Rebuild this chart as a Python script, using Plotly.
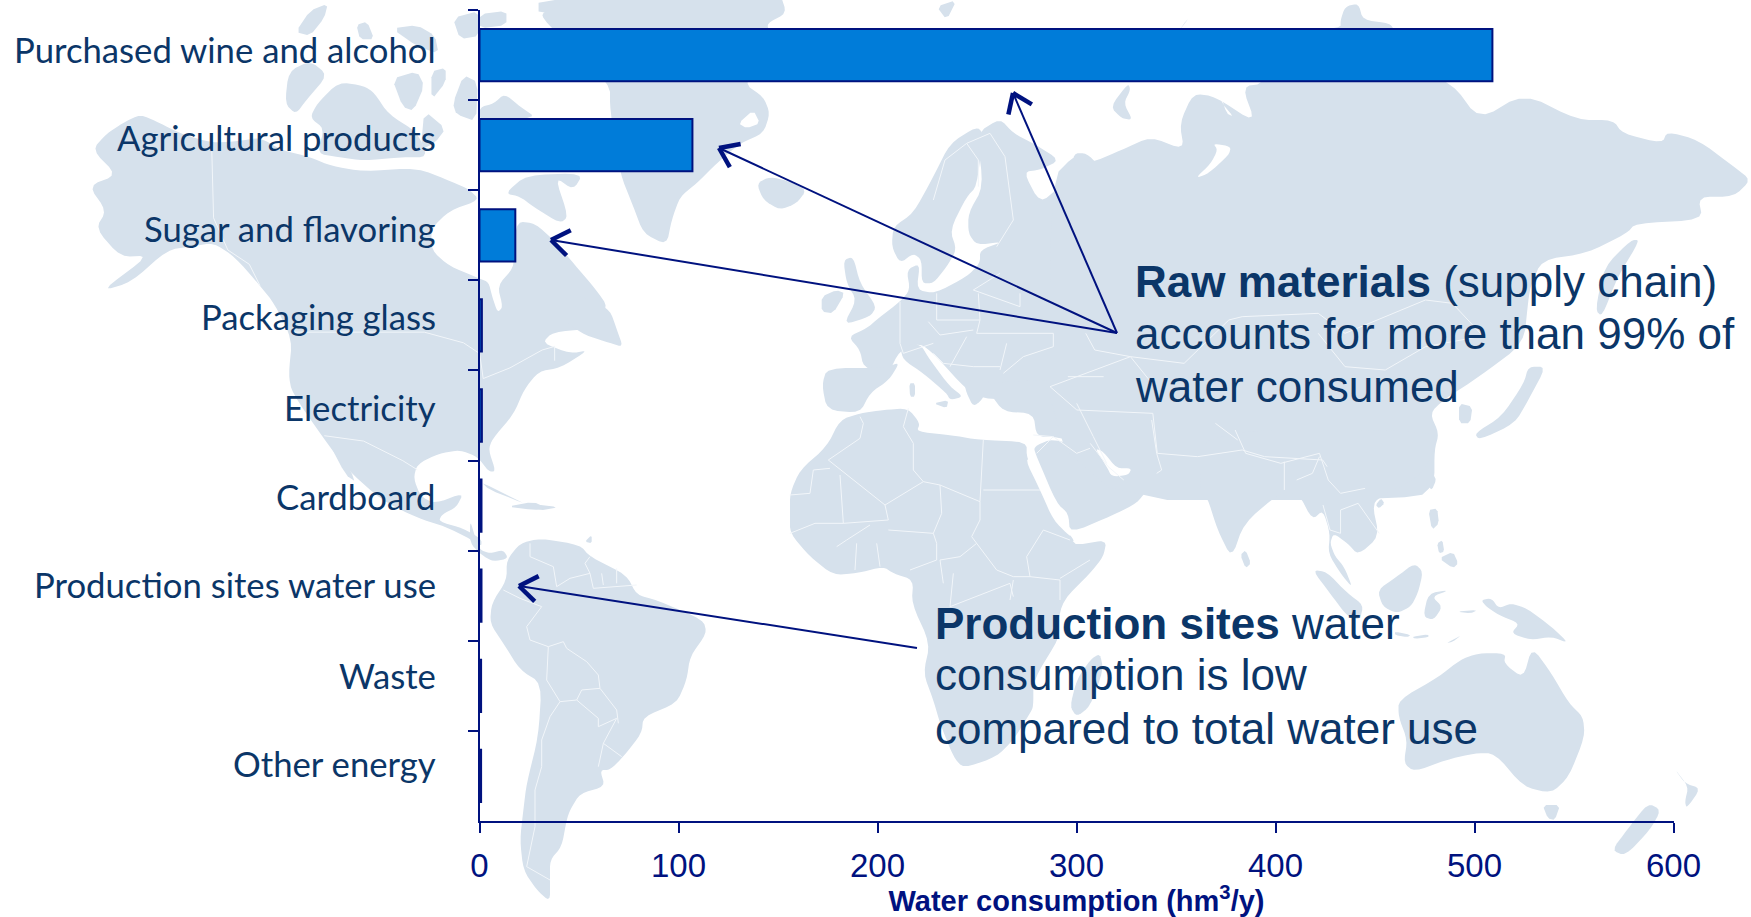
import math
import plotly.graph_objects as go

W, H = 1751, 917

# ---- chart data ----
categories = ["Purchased wine and alcohol", "Agricultural products", "Sugar and flavoring",
              "Packaging glass", "Electricity", "Cardboard", "Production sites water use",
              "Waste", "Other energy"]
water_use = [509, 107, 18, 1.2, 1.2, 1.0, 1.0, 0.8, 0.8]
x_ticks = [0, 100, 200, 300, 400, 500, 600]
label_lift = [6, 8, 7, 9, 8, 9, 11, 10, 12]

INK = "#00127f"
TEXT = "#0b3668"
LAND = "#d6e1ec"

# ---- decorative backdrop map: rough outlines, traced per crop window ----
Z = {"z1": (440, 0, 3, 3), "z5": (60, 0, 2.8, 2.8), "z6": (470, 500, 3, 3), "z7": (600, 0, 3, 3),
     "z8": (770, 380, 3, 3), "z9": (1050, 0, 2.237, 3), "z10": (1200, 430, 2.846, 3), "g": (0, 0, 1, 1)}

land = [
 ("z5", [(90,420),(130,375),(175,345),(225,320),(280,345),(340,375),(425,400),(500,395),(560,385),(620,420),(700,440),(760,465),(850,480),(1000,470),(1100,510),(1145,530),(1175,560),(1090,590),(1040,640),(1040,700),(1090,745),(1175,780),(1200,790),(1210,830),(1225,875),(1240,860),(1225,800),(1270,750),(1270,700),(1280,620),(1330,625),(1390,680),(1440,740),(1500,810),(1535,860),(1490,920),(1380,930),(1350,960),(1430,990),(1480,980),(1400,1030),(1340,1040),(1300,1090),(1270,1160),(1210,1230),(1200,1260),(1220,1320),(1200,1320),(1170,1280),(1120,1260),(1060,1270),(1000,1300),(990,1340),(1010,1390),(1050,1410),(1130,1380),(1110,1420),(1070,1440),(1060,1460),(1130,1480),(1180,1510),(1180,1530),(1150,1510),(1080,1475),(1000,1450),(900,1400),(800,1310),(740,1230),(650,1100),(640,1050),(650,950),(600,850),(560,800),(490,720),(430,680),(370,690),(300,700),(200,790),(115,815),(250,715),(170,720),(100,640),(130,590),(80,520),(160,490)]),
 ("z5", [(745,1225),(770,1240),(830,1350),(800,1330)]),
 ("z5", [(660,90),(700,30),(750,10),(740,50),(700,100)]),
 ("z5", [(830,70),(860,60),(880,110),(840,110)]),
 ("z5", [(930,80),(1000,70),(1050,100),(1060,150),(1000,130)]),
 ("z5", [(640,200),(700,170),(750,210),(690,280),(660,320),(630,290)]),
 ("z5", [(720,290),(780,230),(850,240),(880,260),(920,320),(1000,370),(1030,440),(960,440),(850,450),(780,440),(720,430),(740,360),(700,330)]),
 ("z5", [(930,220),(1000,200),(1020,240),(990,310),(960,300)]),
 ("z5", [(1040,200),(1080,190),(1080,230),(1040,280)]),
 ("z5", [(1100,290),(1130,210),(1170,230),(1165,340),(1110,320)]),
 ("z5", [(1020,310),(1080,360),(1050,400),(1010,420)]),
 ("z5", [(1100,50),(1175,30),(1175,100),(1120,110)]),
 ("z5", [(1175,40),(1250,30),(1250,70),(1175,80)]),
 ("z5", [(1340,40),(1450,20),(1568,40),(1568,0),(1340,0)]),
 ("z5", [(1175,300),(1215,290),(1245,262),(1290,300),(1335,330),(1175,340)]),
 ("z1", [(195,580),(260,525),(430,520),(400,570),(345,530),(385,650),(360,670),(280,620),(240,590)]),
 ("z5", [(1180,1350),(1280,1400),(1300,1410),(1200,1370)]),
 ("z5", [(1310,1410),(1400,1420),(1340,1430)]),
 ("g", [(557,310),(572,293),(590,300),(610,310),(617,330),(623,347),(610,343),(585,335),(570,325)]),
 # Greenland, Iceland, Svalbard
 ("z7", [(-120,-20),(540,-20),(560,40),(500,70),(510,100),(430,250),(490,290),(510,340),(490,400),(420,430),(350,490),(290,550),(240,590),(215,660),(200,735),(130,700),(100,620),(60,520),(30,330),(30,250),(-150,80),(-180,40),(-120,20)]),
 ("z7", [(470,550),(510,530),(570,545),(620,570),(590,610),(540,630),(490,600)]),
 ("z7", [(1010,20),(1070,0),(1040,60)]),
 # South America
 ("z6", [(110,180),(150,130),(210,115),(330,135),(360,170),(470,225),(500,285),(560,300),(700,360),(710,400),(660,470),(650,540),(620,610),(520,650),(515,700),(460,770),(420,810),(390,810),(405,860),(330,880),(300,930),(290,960),(275,1040),(240,1080),(240,1140),(240,1205),(200,1170),(160,1110),(150,1020),(160,930),(170,850),(205,710),(215,550),(150,510),(100,430),(60,370),(65,310),(110,240)]),
 ("z6", [(0,60),(15,110),(30,150),(60,160),(100,150),(115,175),(70,185),(35,165),(0,130)]),
 ("z6", [(110,20),(190,5),(230,25),(190,30)]),
 ("z6", [(345,125),(365,105),(365,130)]),
 # Europe
 ("z7", [(730,780),(760,770),(780,850),(830,920),(810,950),(730,975),(770,900),(740,850)]),
 ("z7", [(665,890),(710,870),(735,880),(700,940),(665,935)]),
 ("z7", [(880,680),(940,640),(1000,530),(1050,430),(1130,380),(1150,400),(1130,560),(1100,590),(1050,690),(1070,750),(1040,800),(1000,850),(965,850),(965,780),(940,760),(900,790),(875,740)]),
 ("z7", [(1130,400),(1200,355),(1240,400),(1300,430),(1380,480),(1320,510),(1270,515),(1320,610),(1380,560),(1420,520),(1420,460),(1460,460),(1500,500),(1500,1200),(1160,1200),(1100,1170),(1000,1060),(960,1030),(900,1050),(860,1130),(790,1100),(780,1050),(745,1010),(800,985),(835,955),(900,905),(930,870),(920,810),(960,790),(950,870),(1005,880),(1100,830),(1140,790),(1140,750),(1210,725),(1130,735),(1105,700),(1105,640),(1150,560)]),
 ("z7", [(900,1040),(960,1030),(990,1080),(1050,1160),(1090,1190),(1050,1200),(1040,1180),(970,1120),(910,1080)]),
 ("g", [(827,368),(885,368),(900,362),(889,380),(870,393),(860,413),(827,410),(822,385)]),
 ("z8", [(490,70),(535,60),(530,85)]),
 ("z8", [(418,10),(435,10),(435,50),(420,50)]),
 ("z8", [(580,0),(590,40),(610,80),(635,60),(650,30),(660,0)]),
 # Africa, Arabia, Middle East
 ("z8", [(270,100),(340,90),(415,85),(450,130),(440,155),(540,165),(630,180),(770,185),(770,235),(820,340),(860,420),(905,470),(915,490),(1010,480),(1000,530),(960,580),(880,660),(860,740),(870,770),(790,900),(790,980),(780,1000),(730,1080),(680,1130),(580,1165),(550,1130),(510,1030),(490,960),(460,880),(480,790),(425,670),(430,600),(370,580),(340,560),(260,580),(190,585),(120,530),(60,460),(60,400),(60,340),(90,270),(170,200),(210,120)]),
 ("z8", [(900,980),(920,900),(960,840),(990,820),(1000,870),(960,980),(920,1010)]),
 ("z8", [(790,200),(850,175),(960,215),(1010,260),(1025,290),(1075,285),(1085,265),(1135,325),(1100,370),(1030,405),(900,460),(895,400),(860,370),(800,230)]),
 ("z8", [(660,40),(700,95),(790,100),(800,170),(860,170),(970,205),(1010,250),(1040,265),(1085,260),(1130,295),(1250,300),(1290,350),(1380,350),(1380,0),(660,0)]),
 # Asia
 ("z9", [(0,540),(60,460),(90,490),(160,450),(225,410),(300,450),(290,370),(320,280),(370,290),(460,370),(430,260),(480,250),(500,100),(650,85),(650,60),(660,20),(690,10),(700,60),(760,70),(770,90),(800,200),(900,250),(960,360),(1060,280),(1180,360),(1260,360),(1280,400),(1370,430),(1380,395),(1450,420),(1530,500),(1568,540),(1530,590),(1450,590),(1460,660),(1310,670),(1290,700),(1200,760),(1100,780),(1075,860),(1070,900),(1060,1030),(960,1130),(880,1200),(850,1240),(870,1300),(860,1350),(860,1450),(820,1500),(0,1500)]),
 ("z9", [(135,320),(175,250),(180,270),(165,310),(185,360),(160,355)]),
 ("z9", [(300,70),(310,55),(290,90)]),
 ("z9", [(1300,720),(1320,720),(1270,830),(1235,950),(1220,930),(1240,800)]),
 ("z9", [(950,1300),(1010,1250),(1060,1150),(1070,1100),(1110,1100),(1070,1200),(1040,1270),(960,1320)]),
 ("z9", [(915,1210),(945,1220),(940,1270),(915,1270)]),
 ("z10", [(0,0),(665,0),(670,50),(640,120),(590,160),(530,190),(490,220),(510,320),(450,375),(420,340),(380,310),(370,340),(385,380),(410,410),(435,475),(400,430),(365,370),(370,310),(350,240),(320,270),(280,190),(225,190),(125,280),(90,385),(50,300),(20,200),(0,190)]),
 ("z10", [(115,375),(130,360),(145,400),(130,415)]),
 ("z10", [(320,420),(360,425),(420,490),(465,525),(455,570),(420,560),(370,490)]),
 ("z10", [(505,480),(560,440),(610,400),(635,425),(620,490),(600,530),(560,550),(520,530)]),
 ("z10", [(635,560),(650,490),(710,480),(660,500),(690,530),(665,570)]),
 ("z10", [(650,240),(675,235),(680,280),(660,300)]),
 ("z10", [(675,340),(690,330),(695,365),(680,370)]),
 ("z10", [(680,385),(720,365),(735,400),(720,415)]),
 ("z10", [(650,170),(665,135),(672,150),(660,180)]),
 ("z10", [(500,225),(515,205),(525,220),(510,235)]),
 ("z10", [(800,510),(830,505),(850,535),(885,520),(930,535),(1000,590),(1050,640),(1000,620),(940,630),(885,610),(910,580),(850,555),(815,530)]),
 ("z10", [(555,605),(600,615),(590,622),(555,615)]),
 ("z10", [(605,620),(650,613),(650,622),(610,626)]),
 ("z10", [(700,640),(745,615),(720,635)]),
 ("z10", [(730,545),(790,540),(770,550)]),
 # Australia, New Zealand
 ("z10", [(565,810),(680,740),(740,690),(790,670),(870,670),(865,700),(920,745),(945,650),(1000,730),(1050,820),(1090,860),(1095,920),(1050,1040),(1000,1090),(920,1070),(840,970),(780,970),(700,990),(610,1025),(580,1000),(590,930),(565,860)]),
 ("z10", [(975,1125),(1025,1125),(1010,1170),(990,1165)]),
 ("z10", [(1350,1015),(1380,1060),(1425,1075),(1385,1135),(1380,1115),(1390,1070)]),
 ("g", [(1648,803),(1661,810),(1650,830),(1625,856),(1612,850),(1627,830)]),
]

water = [
 ("z7", [(415,370),(460,330),(480,370),(440,385)]),
 ("z8", [(765,237),(795,235),(830,310),(870,390),(905,460),(900,470),(850,420),(810,330)]),
 ("z8", [(905,480),(1000,472),(1010,480),(920,495)]),
 ("z8", [(975,205),(1000,215),(1040,265),(1085,265),(1075,285),(1025,290),(1010,260)]),
 ("z9", [(365,430),(405,440),(400,465),(355,520),(325,535),(360,490),(375,450)]),
 ("z9", [(380,280),(395,340),(410,350),(385,310)]),
]

borders = [
 ("z5", [(425,420),(430,610),(470,700),(530,740),(560,800)]),
 ("z5", [(650,930),(1020,930),(1130,960),(1175,990),(1185,1060),(1260,1030),(1350,980),(1385,970),(1385,1010)]),
 ("z5", [(740,1220),(850,1235),(960,1290),(1000,1315)]),
 ("z6", [(180,130),(180,170),(250,200),(260,260),(300,235),(360,220),(345,190),(360,170)]),
 ("z6", [(360,220),(370,265),(500,255)]), ("z6", [(395,220),(400,255)]), ("z6", [(440,205),(440,250)]),
 ("z6", [(100,270),(150,295),(215,320),(170,380),(180,420),(235,440),(280,425),(290,445),(350,485),(385,525),(390,565),(335,570),(320,600),(270,605),(230,540),(235,440)]),
 ("z6", [(270,605),(240,650),(215,720),(215,800),(195,870),(195,980),(170,1100),(240,1140)]),
 ("z6", [(320,600),(385,655),(385,680),(440,655),(400,730),(455,770)]), ("z6", [(400,730),(385,800)]), ("z6", [(390,565),(440,630),(445,670)]),
 ("z8", [(175,240),(345,375),(460,305),(510,315),(630,365),(640,180)]), ("z8", [(640,330),(810,330)]),
 ("z8", [(510,315),(515,400),(490,460),(500,490),(500,540),(420,570)]),
 ("z8", [(630,365),(630,420),(605,470),(620,490),(680,570),(730,590),(780,590),(870,600),(870,660)]),
 ("z8", [(620,490),(570,530),(510,540),(520,610)]), ("z8", [(780,590),(770,530),(820,450),(900,480)]), ("z8", [(870,595),(960,540)]),
 ("z8", [(60,345),(120,340),(130,270),(180,265)]), ("z8", [(210,285),(220,430),(135,430),(60,460)]), ("z8", [(220,430),(355,420),(345,375)]),
 ("z8", [(355,450),(490,460)]), ("z8", [(300,435),(230,480),(200,500)]), ("z8", [(260,490),(255,570)]), ("z8", [(320,490),(330,560)]),
 ("z8", [(550,580),(540,680),(720,610),(730,650)]), ("z8", [(730,600),(720,660)]),
 ("z8", [(175,240),(270,175),(280,130),(270,110)]), ("z8", [(415,85),(400,140),(430,190),(430,270),(460,305)]),
 ("z8", [(790,165),(850,170),(920,220),(960,205)]), ("z8", [(800,220),(850,170)]), ("z8", [(920,70),(970,170),(1010,250)]), ("z8", [(1145,120),(1160,220),(1175,270),(1160,280)]),
 ("z7", [(1000,600),(1035,480),(1100,430),(1135,480),(1135,560)]), ("z7", [(1100,430),(1170,400),(1215,470),(1240,660),(1190,740)]),
 ("z7", [(1010,880),(1010,960),(1140,960),(1135,880)]), ("z7", [(900,905),(900,1030),(910,1060),(1000,1030)]),
 ("z7", [(1140,960),(1130,1000),(1360,1000),(1360,1040),(1270,1070),(1210,1120)]), ("z7", [(1100,1010),(1050,1100)]), ("z7", [(1220,1030),(1200,1110)]),
 ("z7", [(1260,880),(1260,920),(1120,870),(1200,820)]), ("z7", [(1120,1100),(1200,1100)]), ("z7", [(985,965),(1020,1005),(1120,990)]), ("z7", [(1000,1060),(1030,1090),(1120,1100)]),
 ("z9", [(80,1000),(100,1050),(180,1070),(300,1090),(400,960),(430,950),(600,940),(660,1000),(840,900),(900,910),(970,1010),(960,1010),(840,1040),(750,1110),(660,1100),(600,1000)]),
 ("z9", [(240,1170),(180,1070),(0,1160),(60,1230),(230,1240),(240,1360),(330,1370),(430,1350),(480,1370),(610,1380),(620,1400)]), ("z9", [(40,1130),(120,1130)]), ("z9", [(90,1330),(130,1400),(165,1440)]), ("z9", [(370,1270),(420,1320)]),
 ("z10", [(100,0),(130,70),(230,100),(340,70),(365,150),(400,190),(470,175)]), ("z10", [(350,225),(370,300),(400,310),(400,240),(450,220),(510,310)]), ("z10", [(240,95),(240,180)]), ("z10", [(275,150),(320,130),(340,80)]),
]


def conv(key, pts):
    x0, y0, sx, sy = Z[key]
    return [(x0 + px / sx, y0 + py / sy) for px, py in pts]


def rounded(pts, rounds):
    # corner-cutting, so the traced coastlines read as curves rather than facets
    for _ in range(rounds):
        out = []
        for i, (ax, ay) in enumerate(pts):
            bx, by = pts[(i + 1) % len(pts)]
            out.append((0.8 * ax + 0.2 * bx, 0.8 * ay + 0.2 * by))
            out.append((0.2 * ax + 0.8 * bx, 0.2 * ay + 0.8 * by))
        pts = out
    return pts


def path_of(key, pts, close=True):
    g = conv(key, pts)
    if close:
        g = rounded(g, 2 if len(g) > 5 else 1)
    return "M" + "L".join(f"{x / W:.5f},{1 - y / H:.5f}" for x, y in g) + ("Z" if close else "")


shapes = []
for key, pts in land:
    shapes.append(dict(type="path", xref="paper", yref="paper", layer="below", path=path_of(key, pts),
                       fillcolor=LAND, line=dict(width=0)))
for key, pts in water:
    shapes.append(dict(type="path", xref="paper", yref="paper", layer="below", path=path_of(key, pts),
                       fillcolor="white", line=dict(width=0)))
for key, pts in borders:
    shapes.append(dict(type="path", xref="paper", yref="paper", layer="below", path=path_of(key, pts, False),
                       line=dict(color="#f2f6fa", width=1)))


# ---- call-out arrows ----
def arrow(tail, tip):
    ang = math.atan2(tail[1] - tip[1], tail[0] - tip[0])
    res = [dict(type="line", xref="paper", yref="paper", x0=tail[0] / W, y0=1 - tail[1] / H, x1=tip[0] / W, y1=1 - tip[1] / H,
                line=dict(color=INK, width=2))]
    for d in (-0.62, 0.62):
        bx, by = tip[0] + 22 * math.cos(ang + d), tip[1] + 22 * math.sin(ang + d)
        res.append(dict(type="line", xref="paper", yref="paper", x0=bx / W, y0=1 - by / H, x1=tip[0] / W, y1=1 - tip[1] / H,
                        line=dict(color=INK, width=4.5)))
    return res


junction = (1117, 333)
for tip in [(1013, 93), (719, 148), (551, 240)]:
    shapes += arrow(junction, tip)
shapes += arrow((917, 648), (519, 586))

# ---- annotations ----
ann = []
for cat, lift in zip(categories, label_lift):
    ann.append(dict(x=0, y=cat, xref="x", yref="y", text=cat, showarrow=False, xanchor="right", yanchor="middle",
                    xshift=-42, yshift=lift, font=dict(family="Lato", size=34.7, color=TEXT)))

call_lines = [
    (1133, 281, "<b>Raw materials</b> (supply chain)"),
    (1133, 333, "accounts for more than 99% of"),
    (1133, 386, "water consumed"),
    (933, 623, "<b>Production sites</b> water"),
    (933, 674, "consumption is low"),
    (933, 728, "compared to total water use"),
]
for x, y, t in call_lines:
    ann.append(dict(x=x / W, y=1 - y / H, xref="paper", yref="paper", text=t, showarrow=False, xanchor="left", yanchor="middle",
                    font=dict(family="Liberation Sans", size=44, color=TEXT)))

fig = go.Figure(go.Bar(x=water_use, y=categories, orientation="h", width=0.58,
                       marker=dict(color="#007cd9", line=dict(color=INK, width=2))))

fig.update_layout(
    width=W, height=H, margin=dict(l=0, r=0, t=0, b=0), paper_bgcolor="white", plot_bgcolor="rgba(0,0,0,0)",
    showlegend=False, shapes=shapes, annotations=ann,
    xaxis=dict(domain=[479.5 / W, 1673.5 / W], range=[0, 600], tickvals=x_ticks, ticks="outside", ticklen=10, tickwidth=2,
               automargin=False, tickcolor=INK, linecolor=INK, linewidth=2, showline=True, showgrid=False, zeroline=False,
               ticklabelstandoff=4, tickfont=dict(family="Liberation Sans", size=33, color=INK),
               title=dict(text="Water consumption (hm<sup>3</sup>/y)", standoff=1,
                          font=dict(family="Liberation Sans", size=29, color=INK, weight="bold"))),
    yaxis=dict(domain=[1 - 821 / H, 1 - 10 / H], categoryorder="array", categoryarray=categories, range=[8.5, -0.5],
               automargin=False, tickson="boundaries", ticks="outside", ticklen=10, tickwidth=2, tickcolor=INK, linecolor=INK,
               linewidth=2, showline=True, showgrid=False, zeroline=False, showticklabels=False),
)

fig.write_html("out.html", config={"displayModeBar": False},
               post_script="document.body.style.margin='0';document.documentElement.style.overflow='hidden';")
